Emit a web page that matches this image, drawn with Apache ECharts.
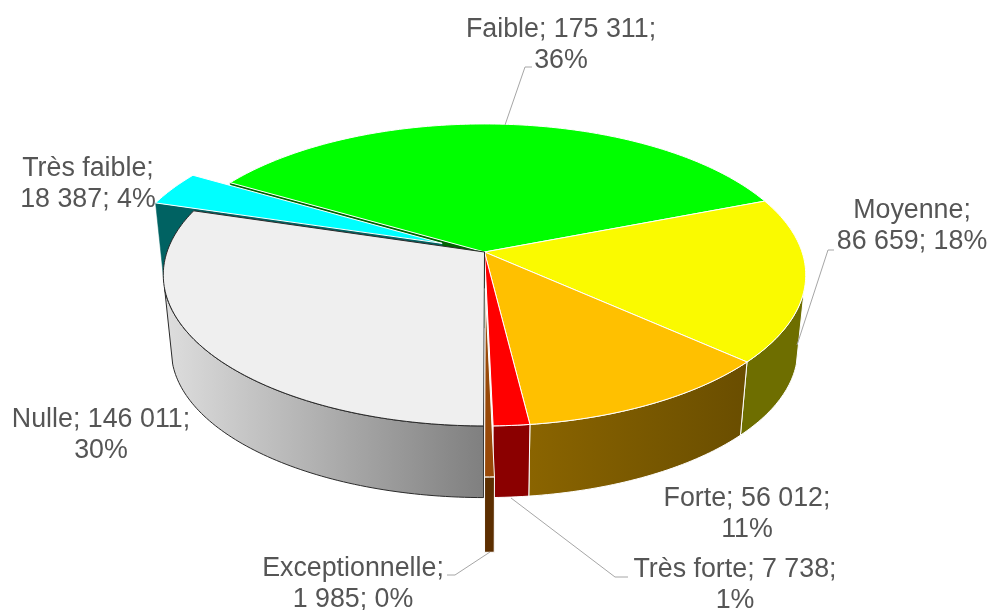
<!DOCTYPE html>
<html>
<head>
<meta charset="utf-8">
<style>html,body{margin:0;padding:0;background:#fff}#c{width:992px;height:610px}</style>
<script src="https://cdn.jsdelivr.net/npm/echarts@6/dist/echarts.min.js"></script>
</head>
<body>
<div id="c"></div>
<script>
// ---- data ----
var categories = ['Faible', 'Moyenne', 'Forte', 'Très forte', 'Exceptionnelle', 'Nulle', 'Très faible'];
var values = [175311, 86659, 56012, 7738, 1985, 146011, 18387];
var valueLabels = ['175 311', '86 659', '56 012', '7 738', '1 985', '146 011', '18 387'];
var percentLabels = ['36%', '18%', '11%', '1%', '0%', '30%', '4%'];

// ---- styling ----
var topColors = ['#00ff00', '#fafa00', '#ffc000', '#ff0000', '#984807', '#efefef', '#00ffff'];
var sideColors = ['#006400', '#6e6e00', null, '#8b0000', '#5c2e00', null, '#006262'];
var edgeColors = ['#ffffff', '#ffffff', '#ffffff', '#ffffff', '#ffffff', '#2a2a2a', '#ffffff'];
var explode = [0, 0, 0, 0, 0.238, 0, 0.147];
var drawOrder = [0, 6, 1, 2, 3, 5, 4];
var breakAfterName = [false, true, false, false, true, false, true];
var labelCentres = [[561, 45], [912, 226], [747, 514], [735, 585], [353, 584], [101, 435], [88, 184]];
var leaders = [
  [[532, 67], [525, 67], [505, 125]],
  [[834, 250], [828, 250], [797, 345]],
  null,
  [[511, 498], [615, 577], [628, 577]],
  [[490, 552], [455, 575], [447, 575]],
  null,
  null
];

// ---- projection of the tilted disc ----
var CX = 484.5, CY = 252, A = 317.5, B = 147.5, P = 0.152;
var BOTTOM_SCALE = 0.975, BOTTOM_CY = 328, FRONT_DROP = 21;
var START = -59.6, SIDE_FROM = 104, SIDE_TO = 256;
var total = values.reduce(function (a, b) { return a + b; }, 0);

function topPt(u, v) {
  var f = 1 / (1 - P * v);
  return [CX + A * u * f, CY + B * v * f];
}
function bottomPt(u, v) {
  var t = topPt(u, v);
  return [CX + BOTTOM_SCALE * (t[0] - CX),
          BOTTOM_CY + BOTTOM_SCALE * (t[1] - CY) + Math.max(0, v - 1) * FRONT_DROP];
}
function disc(deg, off) {
  var r = deg * Math.PI / 180;
  return [Math.sin(r) + off[0], -Math.cos(r) + off[1]];
}
function arc(fn, a0, a1, off) {
  var pts = [], n = Math.max(2, Math.ceil(Math.abs(a1 - a0)));
  for (var i = 0; i <= n; i++) {
    var d = disc(a0 + (a1 - a0) * i / n, off);
    pts.push(fn(d[0], d[1]));
  }
  return pts;
}
function wall(a, off, fill, stroke, z) {
  var r = disc(a, off);
  return {
    type: 'polygon', z2: z,
    shape: { points: [topPt(off[0], off[1]), topPt(r[0], r[1]), bottomPt(r[0], r[1]), bottomPt(off[0], off[1])] },
    style: { fill: fill, stroke: stroke, lineWidth: 0.5 }
  };
}
function sideFill(i) {
  if (categories[i] === 'Forte') {
    return new echarts.graphic.LinearGradient(530, 0, 745, 0, [
      { offset: 0, color: '#8a6400' }, { offset: 1, color: '#6a4e00' }], true);
  }
  if (categories[i] === 'Nulle') {
    return new echarts.graphic.LinearGradient(170, 0, 485, 0, [
      { offset: 0, color: '#dcdcdc' }, { offset: 1, color: '#7f7f7f' }], true);
  }
  return sideColors[i];
}

function renderSlice(params, api) {
  var i = api.value(1), value = api.value(0);
  var before = 0;
  for (var k = 0; k < i; k++) before += values[k];
  var a0 = START + before / total * 360;
  var a1 = a0 + value / total * 360;
  var mid = (a0 + a1) / 2 * Math.PI / 180;
  var off = [Math.sin(mid) * explode[i], -Math.cos(mid) * explode[i]];
  var rank = drawOrder.indexOf(i) * 5 + 1;
  var children = [];

  // cut faces uncovered by the pulled-out "Très faible" slice
  if (categories[i] === 'Faible') children.push(wall(a0, off, sideColors[i], sideColors[i], rank));
  if (categories[i] === 'Très faible') children.push(wall(a0, off, sideColors[i], sideColors[i], rank));

  // outer rim, front part only
  var s0 = Math.max(a0, SIDE_FROM), s1 = Math.min(a1, SIDE_TO);
  if (s1 > s0) {
    children.push({
      type: 'polygon', z2: rank + 1,
      shape: { points: arc(topPt, s0, s1, off).concat(arc(bottomPt, s1, s0, off)) },
      style: { fill: sideFill(i), stroke: edgeColors[i], lineWidth: 1, lineJoin: 'round' }
    });
  }
  // top face
  children.push({
    type: 'polygon', z2: rank + 2,
    shape: { points: [topPt(off[0], off[1])].concat(arc(topPt, a0, a1, off)) },
    style: { fill: topColors[i], stroke: edgeColors[i], lineWidth: 1, lineJoin: 'round' }
  });
  return { type: 'group', children: children };
}

function renderLabel(params, api) {
  var i = api.value(1);
  var name = categories[i] + ';';
  var text = breakAfterName[i]
    ? name + '\n' + valueLabels[i] + '; ' + percentLabels[i]
    : name + ' ' + valueLabels[i] + ';\n' + percentLabels[i];
  var children = [{
    type: 'text', z2: 200,
    style: {
      text: text, x: labelCentres[i][0], y: labelCentres[i][1],
      align: 'center', verticalAlign: 'middle',
      fontFamily: '"Liberation Sans", Arial, sans-serif', fontSize: 26.8, lineHeight: 31.5,
      fill: '#555555'
    }
  }];
  if (leaders[i]) {
    children.push({
      type: 'polyline', z2: 190,
      shape: { points: leaders[i] },
      style: { fill: 'none', stroke: '#a6a6a6', lineWidth: 1 }
    });
  }
  return { type: 'group', children: children };
}

var rows = values.map(function (v, i) { return [v, i]; });
var chart = echarts.init(document.getElementById('c'), null, { width: 992, height: 610 });
chart.setOption({
  animation: false,
  backgroundColor: '#ffffff',
  series: [
    { type: 'custom', coordinateSystem: 'none', renderItem: renderSlice, data: rows, silent: true, z: 1 },
    { type: 'custom', coordinateSystem: 'none', renderItem: renderLabel, data: rows, silent: true, z: 2 }
  ]
});
</script>
</body>
</html>
